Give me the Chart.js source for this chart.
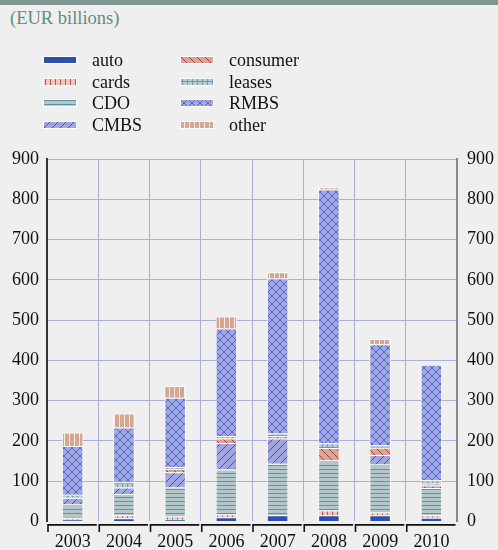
<!DOCTYPE html>
<html lang="en">
<head>
<meta charset="UTF-8">
<title>Securitisation issuance</title>
<script src="https://cdn.jsdelivr.net/npm/chart.js"></script>
<style>
    body { margin: 0; background: #efefef; font-family: "Liberation Serif", serif; }
    #wrap { position: relative; width: 498px; height: 550px; overflow: hidden; }
    #band { position: absolute; left: 0; top: 0; width: 498px; height: 5px; background: #7f9691; }
    #title { position: absolute; left: 10px; top: 8px; font-size: 18.5px; color: #5f8d83; }
    #chart { position: absolute; left: 0; top: 0; }
    .item { position: absolute; font-size: 18px; color: #111; line-height: 20px; }
    .item canvas { position: absolute; top: 6px; }
</style>
</head>
<body>
<div id="wrap">
    <div id="band"></div>
    <div id="title">(EUR billions)</div>
    <canvas id="chart" width="498" height="550"></canvas>
    <div id="legend"></div>
</div>
<script>
// data (EUR billions)
const years = ['2003', '2004', '2005', '2006', '2007', '2008', '2009', '2010'];
const auto     = [4, 8, 4, 10, 15, 15, 15, 9];
const cards    = [5, 7, 8, 7, 1, 12, 7, 6];
const cdo      = [33, 53, 72, 112, 127, 124, 119, 68];
const cmbs     = [16, 16, 38, 66, 63, 1, 24, 6];
const consumer = [1, 0, 8, 11, 6, 30, 18, 5];
const leases   = [7, 13, 5, 6, 6, 12, 6, 8];
const rmbs     = [121, 136, 172, 267, 385, 630, 251, 287];
const other    = [34, 35, 29, 30, 16, 6, 13, 0];
const yTicks   = [0, 100, 200, 300, 400, 500, 600, 700, 800, 900];

// hatch patterns
function tile(w, h, draw) {
    const c = document.createElement('canvas');
    c.width = w; c.height = h;
    const g = c.getContext('2d');
    draw(g, w, h);
    return g.createPattern(c, 'repeat');
}
function line(g, x1, y1, x2, y2, col) {
    g.strokeStyle = col; g.lineWidth = 1;
    g.beginPath(); g.moveTo(x1, y1); g.lineTo(x2, y2); g.stroke();
}

const fills = {
    auto: '#2f4fae',
    cards: tile(5, 5, (g, w, h) => { g.fillStyle = '#ecc9bc'; g.fillRect(0, 0, w, h); g.fillStyle = '#c9524a'; g.fillRect(2, 0, 1, h); }),
    cdo: tile(4, 4, (g, w, h) => { g.fillStyle = '#b3c7cb'; g.fillRect(0, 0, w, h); g.fillStyle = '#6393a0'; g.fillRect(0, 1, w, 1); }),
    cmbs: tile(8, 8, (g, w, h) => { g.fillStyle = '#a1a6e1'; g.fillRect(0, 0, w, h); line(g, -1, 9, 9, -1, '#3f50c0'); }),
    consumer: tile(8, 8, (g, w, h) => { g.fillStyle = '#d9a594'; g.fillRect(0, 0, w, h); line(g, -1, -1, 9, 9, '#b23a3a'); }),
    leases: tile(5, 6, (g, w, h) => { g.fillStyle = '#b9ced3'; g.fillRect(0, 0, w, h); g.fillStyle = '#6d9ca8'; g.fillRect(2, 0, 1, h); g.fillRect(0, 3, w, 1); }),
    rmbs: tile(8, 8, (g, w, h) => { g.fillStyle = '#a0a7e1'; g.fillRect(0, 0, w, h); line(g, -1, -1, 9, 9, '#5566c8'); line(g, -1, 9, 9, -1, '#5566c8'); }),
    other: tile(5, 4, (g, w, h) => { g.fillStyle = '#d8a58e'; g.fillRect(0, 0, w, h); g.fillStyle = '#f4ece8'; g.fillRect(4, 0, 1, h); })
};

const series = [
    ['auto', auto, fills.auto],
    ['cards', cards, fills.cards],
    ['CDO', cdo, fills.cdo],
    ['CMBS', cmbs, fills.cmbs],
    ['consumer', consumer, fills.consumer],
    ['leases', leases, fills.leases],
    ['RMBS', rmbs, fills.rmbs],
    ['other', other, fills.other]
];

// legend: two columns, four rows
const legend = document.getElementById('legend');
series.forEach((s, i) => {
    const col = Math.floor(i / 4), row = i % 4;
    const d = document.createElement('div');
    d.className = 'item';
    d.style.left = (43 + col * 137) + 'px';
    d.style.top = (50 + row * 21.5) + 'px';
    d.innerHTML = '<canvas width="34" height="8"></canvas><span style="margin-left:49px">' + s[0] + '</span>';
    legend.appendChild(d);
    const g = d.querySelector('canvas').getContext('2d');
    g.fillStyle = '#fff'; g.fillRect(0, 0, 34, 8);
    g.fillStyle = s[2]; g.fillRect(1, 1, 32, 6);
});

const font = { family: '"Liberation Serif", serif', size: 18 };
const gridCol = '#a9addf';

// bracket marks under each category
const brackets = {
    id: 'brackets',
    afterDraw(chart) {
        const xs = chart.scales.x, ctx = chart.ctx;
        const half = xs.width / years.length / 2;
        const y = chart.chartArea.bottom + 3.5;
        ctx.save();
        ctx.strokeStyle = '#111'; ctx.lineWidth = 1.6;
        years.forEach((_, i) => {
            const c = xs.getPixelForValue(i);
            const l = c - half + 1, r = c + half - 1.5;
            ctx.beginPath();
            ctx.moveTo(l, y + 7); ctx.lineTo(l, y); ctx.lineTo(r, y);
            ctx.stroke();
        });
        ctx.restore();
    }
};

new Chart(document.getElementById('chart'), {
    type: 'bar',
    data: {
        labels: years,
        datasets: series.map(s => ({
            label: s[0],
            data: s[1],
            backgroundColor: s[2],
            borderColor: '#ffffff',
            borderWidth: { top: 1, left: 1, right: 1, bottom: 0 },
            borderSkipped: false,
            barPercentage: 0.42,
            categoryPercentage: 1
        }))
    },
    options: {
        responsive: false,
        animation: false,
        devicePixelRatio: 1,
        layout: { padding: { top: 159, left: 4, right: -6, bottom: -13 } },
        plugins: { legend: { display: false }, tooltip: { enabled: false } },
        scales: {
            x: {
                stacked: true,
                grid: { offset: true, color: gridCol, lineWidth: 1, drawTicks: false },
                border: { display: false },
                ticks: { font: font, color: '#111', padding: 10, maxRotation: 0 }
            },
            y: {
                stacked: true,
                min: 0, max: 900,
                afterBuildTicks: a => { a.ticks = yTicks.map(v => ({ value: v })); },
                grid: { color: c => c.tick && c.tick.value === 0 ? 'rgba(0,0,0,0)' : gridCol, lineWidth: 1, drawTicks: false },
                border: { color: '#333', width: 2 },
                ticks: { font: font, color: '#111', padding: 8 }
            },
            y2: {
                position: 'right',
                min: 0, max: 900,
                afterBuildTicks: a => { a.ticks = yTicks.map(v => ({ value: v })); },
                grid: { display: false, drawTicks: false },
                border: { color: '#888', width: 2 },
                ticks: { font: font, color: '#111', padding: 10 }
            }
        }
    },
    plugins: [brackets]
});
</script>
</body>
</html>
